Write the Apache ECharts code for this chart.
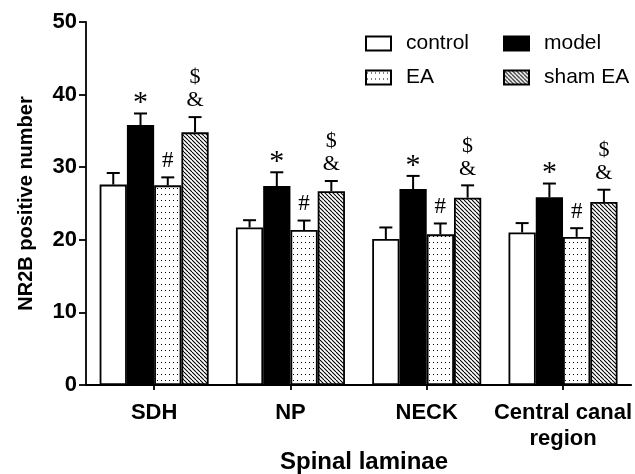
<!DOCTYPE html>
<html>
<head>
<meta charset="utf-8">
<script src="https://cdn.jsdelivr.net/npm/echarts@6/dist/echarts.min.js"></script>
<style>html,body{margin:0;padding:0;background:#fff;}#main{width:635px;height:474px;}</style>
</head>
<body>
<div id="main"></div>
<script>
var categories = ['SDH', 'NP', 'NECK', 'Central canal\nregion'];
var seriesNames = ['control', 'model', 'EA', 'sham EA'];
var controlVals = [27.6, 21.7, 20.1, 21.0];
var controlErr = [1.6, 1.0, 1.6, 1.3];
var modelVals = [35.8, 27.4, 27.0, 25.85];
var modelErr = [1.6, 1.9, 1.8, 1.9];
var eaVals = [27.5, 21.35, 20.75, 20.4];
var eaErr = [1.1, 1.3, 1.5, 1.2];
var shamVals = [34.8, 26.7, 25.8, 25.2];
var shamErr = [2.1, 1.4, 1.7, 1.7];
var marks = ['', '*', '#', '$\n&'];
var yTicks = [0, 10, 20, 30, 40, 50];

function dotPattern() {
  var c = document.createElement('canvas');
  c.width = 4; c.height = 6;
  var ctx = c.getContext('2d');
  ctx.fillStyle = '#fff'; ctx.fillRect(0, 0, 4, 6);
  ctx.fillStyle = '#000'; ctx.fillRect(1, 2, 1, 1);
  return c;
}
function hatchPattern() {
  var s = 4;
  var c = document.createElement('canvas');
  c.width = s; c.height = s;
  var ctx = c.getContext('2d');
  ctx.fillStyle = '#fff'; ctx.fillRect(0, 0, s, s);
  ctx.strokeStyle = '#000'; ctx.lineWidth = 1.1;
  for (var k = -1; k <= 1; k++) {
    ctx.beginPath(); ctx.moveTo(k * s, 0); ctx.lineTo(k * s + s, s); ctx.stroke();
  }
  return c;
}

var fills = ['#ffffff', '#000000', { image: dotPattern(), repeat: 'repeat' }, { image: hatchPattern(), repeat: 'repeat' }];
var vals = [controlVals, modelVals, eaVals, shamVals];
var errs = [controlErr, modelErr, eaErr, shamErr];
var serif = '"Liberation Serif", "Times New Roman", serif';

var series = [];
seriesNames.forEach(function (n, i) {
  series.push({
    name: n, type: 'bar', data: vals[i], barGap: '0%', barCategoryGap: '20%',
    itemStyle: { color: fills[i], borderColor: '#000', borderWidth: 1.8 },
    z: 2
  });
});
seriesNames.forEach(function (n, i) {
  series.push({
    type: 'custom', name: n + '_err', z: 3, silent: true,
    data: vals[i].map(function (v, j) { return [j, v, errs[i][j]]; }),
    renderItem: function (params, api) {
      var idx = api.value(0);
      var v = api.value(1), e = api.value(2);
      var band = api.size([1, 0])[0];
      var bw = band * 0.8 / 4;
      var base = api.coord([idx, v]);
      var x = base[0] + (i - 1.5) * bw;
      var top = api.coord([idx, v + e])[1];
      var y0 = base[1];
      var cap = 6.5;
      var children = [
        { type: 'line', shape: { x1: x, y1: y0, x2: x, y2: top }, style: { stroke: '#000', lineWidth: 2 } },
        { type: 'line', shape: { x1: x - cap, y1: top, x2: x + cap, y2: top }, style: { stroke: '#000', lineWidth: 2 } }
      ];
      var m = marks[i];
      if (m === '*') {
        children.push({
          type: 'text', style: {
            text: m, x: x, y: top + 5, align: 'center', verticalAlign: 'bottom',
            font: '30px ' + serif, fill: '#000'
          }
        });
      } else if (m) {
        children.push({
          type: 'text', style: {
            text: m, x: x, y: top - 5, align: 'center', verticalAlign: 'bottom',
            font: (m === '#' ? '23px ' : '22px ') + serif, fill: '#000', lineHeight: 23
          }
        });
      }
      return { type: 'group', children: children };
    }
  });
});

var legendText = { fontFamily: 'Liberation Sans, Arial', fontSize: 21, color: '#000', padding: [0, 0, 0, 10] };
var chart = echarts.init(document.getElementById('main'));
chart.setOption({
  backgroundColor: '#fff',
  animation: false,
  title: {
    text: 'Spinal laminae', left: 359, top: 445, textAlign: 'center',
    textStyle: { fontFamily: 'Liberation Sans, Arial', fontWeight: 'bold', fontSize: 24, color: '#000' }
  },
  legend: [{
    data: ['control', 'EA'], orient: 'vertical', left: 360, top: 28, itemWidth: 25, itemHeight: 14, itemGap: 13,
    icon: 'rect', textStyle: legendText
  }, {
    data: ['model', 'sham EA'], orient: 'vertical', left: 498, top: 28, itemWidth: 25, itemHeight: 14, itemGap: 13,
    icon: 'rect', textStyle: legendText
  }],
  grid: { left: 86, right: 3, top: 22, bottom: 89, containLabel: false },
  xAxis: {
    type: 'category', data: categories,
    axisLine: { lineStyle: { color: '#000', width: 1.8 } },
    axisTick: { show: true, alignWithLabel: true, length: 5, lineStyle: { color: '#000', width: 1.8 } },
    axisLabel: { color: '#000', fontFamily: 'Liberation Sans, Arial', fontWeight: 'bold', fontSize: 22, margin: 15, lineHeight: 26, interval: 0 }
  },
  yAxis: {
    type: 'value', min: yTicks[0], max: yTicks[yTicks.length - 1], interval: 10,
    name: 'NR2B positive number', nameLocation: 'middle', nameGap: 50,
    nameTextStyle: { color: '#000', fontFamily: 'Liberation Sans, Arial', fontWeight: 'bold', fontSize: 20 },
    axisLine: { show: true, lineStyle: { color: '#000', width: 1.8 } },
    axisTick: { show: true, length: 7, lineStyle: { color: '#000', width: 1.8 } },
    splitLine: { show: false },
    axisLabel: { color: '#000', fontFamily: 'Liberation Sans, Arial', fontWeight: 'bold', fontSize: 22, margin: 9 }
  },
  series: series
});
</script>
</body>
</html>
